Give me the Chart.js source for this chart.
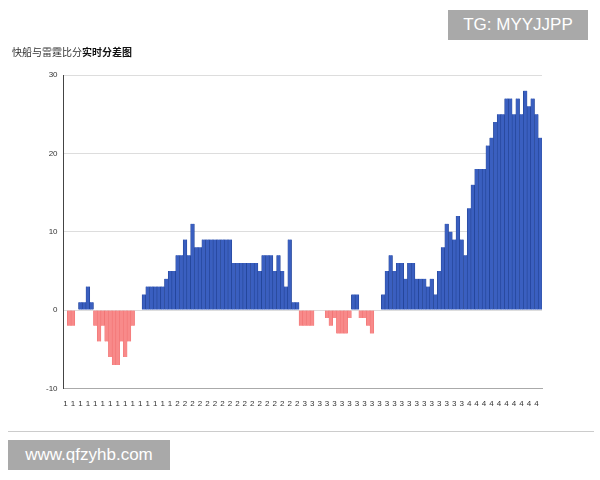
<!DOCTYPE html>
<html>
<head>
<meta charset="utf-8">
<script src="https://cdn.jsdelivr.net/npm/chart.js@4"></script>
<style>
  body { margin: 0; background: #fff; font-family: "Noto Sans CJK SC", sans-serif; }
  #wrap { position: relative; width: 600px; height: 480px; }
  #title { position: absolute; left: 12px; top: 44px; font-size: 10px; color: #333; }
  #title b { color: #111; }
  #tg { position: absolute; left: 448px; top: 10px; width: 140px; height: 30px; background: #a9a9a9; color: #fff; font: 17px "Liberation Sans", sans-serif; line-height: 30px; text-align: center; }
  #url { position: absolute; left: 8px; top: 440px; width: 162px; height: 30px; background: #a9a9a9; color: #fff; font: 17px "Liberation Sans", sans-serif; line-height: 30px; text-align: center; }
  #rule { position: absolute; left: 8px; top: 431px; width: 586px; border-top: 1px solid #ccc; }
</style>
</head>
<body>
<div id="wrap">
  <canvas id="myChart" width="600" height="480"></canvas>
  <div id="title">快船与雷霆比分<b>实时分差图</b></div>
  <div id="tg">TG: MYYJJPP</div>
  <div id="rule"></div>
  <div id="url">www.qfzyhb.com</div>
</div>
<script>
// 每节的分差（快船 - 雷霆）
const q1 = [0, -2, -2, 0, 1, 1, 3, 1, -2, -4, -2, -4, -6, -7, -7, -4, -6, -4, -2, 0, 0, 2, 3, 3, 3, 3, 3, 4, 5, 5];
const q2 = [7, 7, 9, 7, 11, 8, 8, 9, 9, 9, 9, 9, 9, 9, 9, 6, 6, 6, 6, 6, 6, 6, 5, 7, 7, 7, 5, 7, 5, 3, 9, 1, 1];
const q3 = [-2, -2, -2, -2, 0, 0, 0, -1, -2, -1, -3, -3, -3, -1, 2, 2, -1, -1, -2, -3, 0, 0, 2, 5, 7, 5, 6, 6, 4, 6, 6, 4, 4, 4, 3, 4, 2, 5, 8, 11, 10, 9, 12, 9];
const q4 = [7, 13, 16, 18, 18, 18, 21, 22, 24, 25, 25, 27, 27, 25, 27, 25, 28, 26, 27, 25, 22];
const yTicks = [-10, 0, 10, 20, 30];

const quarters = [q1, q2, q3, q4];
const labels = [];
const values = [];
quarters.forEach(function (q, i) {
    q.forEach(function (v) {
        labels.push(String(i + 1));
        values.push(v);
    });
});

const ctx = document.getElementById('myChart').getContext('2d');
new Chart(ctx, {
    type: 'bar',
    data: {
        labels: labels,
        datasets: [{
            data: values,
            backgroundColor: values.map(v => v >= 0 ? '#3a5fc0' : '#f88a8a'),
            borderColor: values.map(v => v >= 0 ? '#1f3f8f' : '#f07070'),
            borderWidth: { left: 0.6, right: 0.6, top: 0, bottom: 0 },
            categoryPercentage: 1,
            barPercentage: 1
        }]
    },
    options: {
        responsive: false,
        animation: false,
        layout: { padding: { left: 40, right: 58, top: 75, bottom: 68 } },
        plugins: { legend: { display: false }, tooltip: { enabled: false } },
        scales: {
            x: {
                grid: { display: false, drawTicks: true },
                border: { color: '#aaa' },
                ticks: { color: '#333', font: { size: 8 }, maxRotation: 0, autoSkip: true, autoSkipPadding: 2 }
            },
            y: {
                min: -10, max: 30,
                afterBuildTicks: function (axis) { axis.ticks = yTicks.map(v => ({ value: v })); },
                grid: { color: '#ddd', drawTicks: false },
                border: { color: '#444' },
                ticks: { color: '#333', font: { size: 8 }, padding: 6 }
            }
        }
    }
});
</script>
</body>
</html>
